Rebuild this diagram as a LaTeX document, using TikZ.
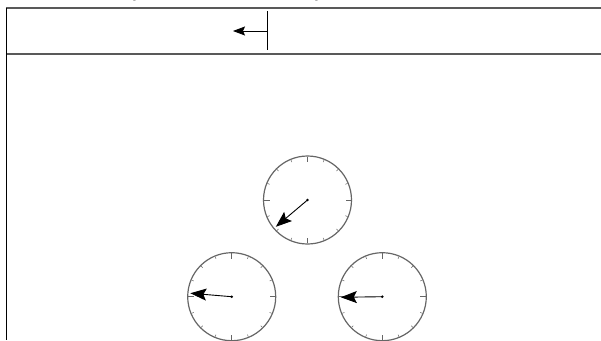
\documentclass[tikz,border=0pt]{standalone}
\usetikzlibrary{arrows.meta,calc}
\tikzset{
  rule/.style={draw=black!65, line width=1.3pt},
  dial/.style={draw=black!60, line width=1.2pt},
  dialtick/.style={draw=black!60, line width=0.5pt},
  hand/.style={-{Stealth[length=16pt,width=12pt,inset=3pt]}, line width=0.9pt},
  marker/.style={-{Stealth[length=12pt,width=9pt,inset=2pt]}, line width=0.9pt}
}
\begin{document}
\begin{tikzpicture}[x=1pt, y=-1pt]
  \useasboundingbox (0,0) rectangle (601,340);
  % cut-off labels above the strip
  \node[font=\itshape\large, anchor=base, inner sep=0pt] (lbla) at (136,-1.5) {p};
  \node[font=\itshape\large, anchor=base, inner sep=0pt] (lblb) at (318,-1.5) {p};
  % strip
  \coordinate (stripnw) at (6,8);
  \coordinate (stripne) at (601,8);
  \coordinate (stripsw) at (6,54);
  \coordinate (stripse) at (601,54);
  \coordinate (axisend) at (6,340);
  \draw[rule] (stripnw) -- (stripne);
  \draw[rule] (stripsw) -- (stripse);
  \draw[line width=0.9pt] (stripnw) -- (axisend);
  % marker
  \coordinate (mtop) at (267,11);
  \coordinate (mbot) at (267,50);
  \coordinate (mmid) at (267,31);
  \coordinate (mtip) at (233,31);
  \draw[line width=0.9pt] (mtop) -- (mbot);
  \draw[marker] (mmid) -- (mtip);
  % clocks
  \foreach \n/\cx/\cy/\a in {ctop/307.5/200/139.8, cleft/231.7/296.7/184.8, cright/382.3/296.7/179.2} {
    \coordinate (\n) at (\cx,\cy);
    \draw[dial] (\n) circle (44);
    \foreach \t in {0,22.5,...,337.5} {
      \pgfmathsetmacro{\len}{mod(\t,90)==0 ? 38 : 41}
      \draw[dialtick] ($(\n)+(\t:43.4)$) -- ($(\n)+(\t:\len)$);
    }
    \fill (\n) circle (1.4);
    \path (\n) ++(\a:41.5) coordinate (\n-tip);
    \draw[hand] (\n) -- (\n-tip);
  }
\end{tikzpicture}
\end{document}
